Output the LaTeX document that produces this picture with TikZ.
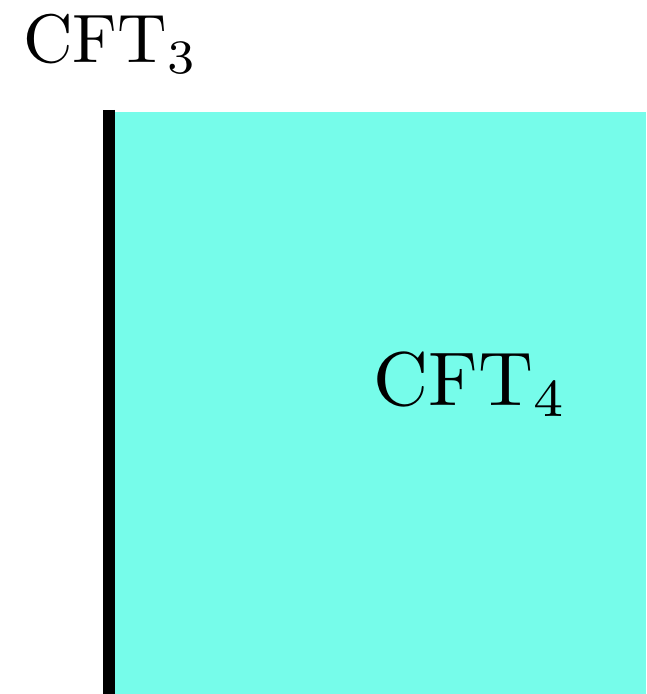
\documentclass[tikz,border=0pt]{standalone}
\definecolor{bulk}{RGB}{118,252,234}
\begin{document}
\begin{tikzpicture}[x=0.5pt,y=-0.5pt,
  lbl/.style={inner sep=0pt,anchor=base west,scale=3.43,transform shape}]
\useasboundingbox (0,0) rectangle (646,694);
\fill[bulk] (112,112) rectangle (646,694);
\draw[line width=6.3pt] (109,110) -- (109,694);
\node[lbl] (cft3) at (22,63) {$\mathrm{CFT}_3$};
\node[lbl,scale=1.11] (cft4) at (372,405) {$\mathrm{CFT}_4$};
\end{tikzpicture}
\end{document}
